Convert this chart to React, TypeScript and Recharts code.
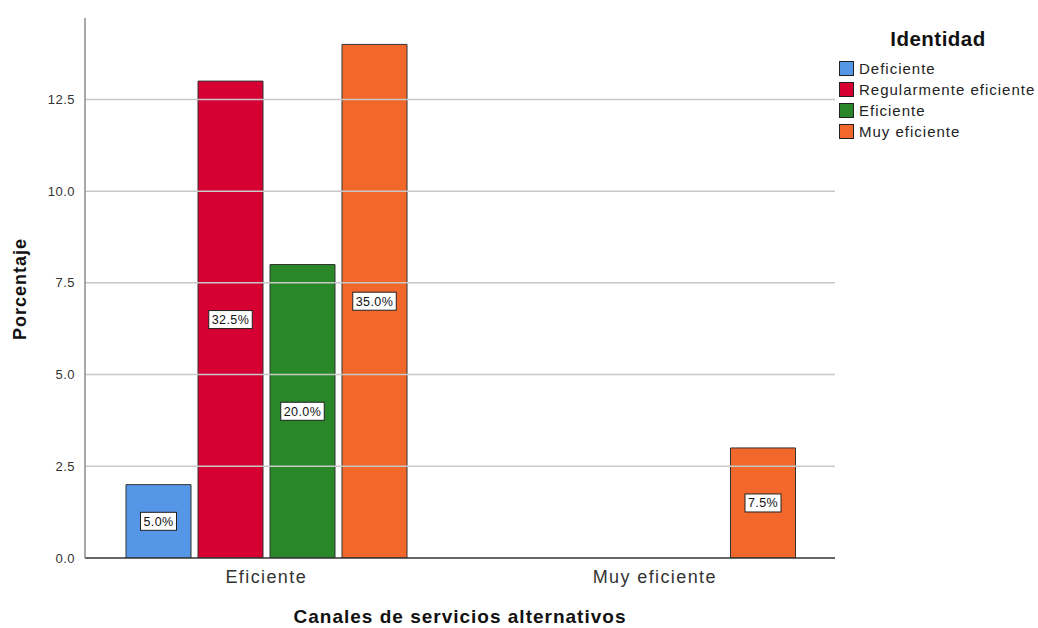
import { BarChart, Bar, XAxis, YAxis, ReferenceLine, Legend, LabelList } from "recharts";

const categories = ["Eficiente", "Muy eficiente"];
const deficiente = [2, null];
const regular = [13, null];
const eficiente = [8, null];
const muyEficiente = [14, 3];
const yTicks = [0, 2.5, 5, 7.5, 10, 12.5];

const series = [
  { key: "deficiente", name: "Deficiente", values: deficiente, color: "#5596e6" },
  { key: "regular", name: "Regularmente eficiente", values: regular, color: "#d60032" },
  { key: "eficiente", name: "Eficiente", values: eficiente, color: "#298729" },
  { key: "muy", name: "Muy eficiente", values: muyEficiente, color: "#f2682c" },
];

const total = series.reduce(
  (s, ser) => s + ser.values.reduce((a: number, v) => a + (v ?? 0), 0),
  0
);

const data = categories.map((cat, i) => {
  const row: Record<string, string | number | null> = { cat };
  series.forEach((s) => {
    row[s.key] = s.values[i];
  });
  return row;
});

const FONT = "'Liberation Sans', Arial, sans-serif";

// white boxed percentage drawn in the middle of each bar
function PctLabel(props: any) {
  const { x, y, width, height, value } = props;
  if (value == null || !height) return null;
  const text = ((value / total) * 100).toFixed(1) + "%";
  const cx = x + width / 2;
  const cy = y + height / 2;
  const w = text.length * 7.5 + 6;
  return (
    <g>
      <rect x={cx - w / 2} y={cy - 9} width={w} height={18} fill="#fff" stroke="#222" strokeWidth={1} />
      <text x={cx} y={cy + 4.5} textAnchor="middle" fontSize={12.5} letterSpacing={0.4} fontFamily={FONT} fill="#111">
        {text}
      </text>
    </g>
  );
}

function LegendBox() {
  return (
    <div style={{ fontFamily: FONT, color: "#222" }}>
      <div
        style={{
          fontWeight: "bold",
          fontSize: 20.5,
          letterSpacing: 0.5,
          textAlign: "center",
          width: 198,
          marginBottom: 7,
          color: "#111",
        }}
      >
        Identidad
      </div>
      {series.map((s) => (
        <div key={s.key} style={{ display: "flex", alignItems: "center", height: 21 }}>
          <span
            style={{
              display: "inline-block",
              width: 13,
              height: 13,
              background: s.color,
              border: "1px solid #222",
              marginRight: 5,
            }}
          />
          <span style={{ fontSize: 15, letterSpacing: 1 }}>{s.name}</span>
        </div>
      ))}
    </div>
  );
}

export default function App() {
  return (
    <div style={{ position: "absolute", left: 0, top: 0, width: 1038, height: 628, background: "#fff" }}>
      <BarChart
        width={1038}
        height={628}
        data={data}
        margin={{ top: 18, right: 3, bottom: 0, left: 40 }}
        barSize={65}
        barGap={7}
      >
        {yTicks
          .filter((t) => t > 0)
          .map((t) => (
            <ReferenceLine key={t} y={t} stroke="#c8c8c8" strokeWidth={1.5} />
          ))}
        <XAxis
          dataKey="cat"
          height={70}
          padding={{ left: -13, right: -14 }}
          tickLine={false}
          axisLine={{ stroke: "#333", strokeWidth: 1.5 }}
          tick={{ fontSize: 18, fill: "#333", fontFamily: FONT, letterSpacing: 1.4 }}
          tickMargin={6}
        />
        <YAxis
          width={45}
          domain={[0, 14.72]}
          ticks={yTicks}
          tickFormatter={(v: number) => v.toFixed(1)}
          tickLine={false}
          axisLine={{ stroke: "#8c8c8c", strokeWidth: 1.5 }}
          tick={{ fontSize: 13, fill: "#333", fontFamily: FONT, letterSpacing: 0.5 }}
          tickMargin={4}
          allowDataOverflow
        />
        <Legend
          layout="vertical"
          verticalAlign="top"
          align="right"
          content={<LegendBox />}
          wrapperStyle={{ left: 839, top: 27, width: 200 }}
        />
        {series.map((s) => (
          <Bar key={s.key} dataKey={s.key} name={s.name} fill={s.color} stroke="#333" strokeWidth={1} isAnimationActive={false}>
            <LabelList dataKey={s.key} content={<PctLabel />} />
          </Bar>
        ))}
      </BarChart>
      <div
        style={{
          position: "absolute",
          left: 85,
          width: 750,
          top: 606,
          textAlign: "center",
          fontFamily: FONT,
          fontWeight: "bold",
          fontSize: 19,
          letterSpacing: 1,
          color: "#111",
        }}
      >
        Canales de servicios alternativos
      </div>
      <div
        style={{
          position: "absolute",
          left: 20,
          top: 289,
          transform: "translate(-50%, -50%) rotate(-90deg)",
          fontFamily: FONT,
          fontWeight: "bold",
          fontSize: 18,
          letterSpacing: 1,
          color: "#111",
          whiteSpace: "nowrap",
        }}
      >
        Porcentaje
      </div>
    </div>
  );
}
